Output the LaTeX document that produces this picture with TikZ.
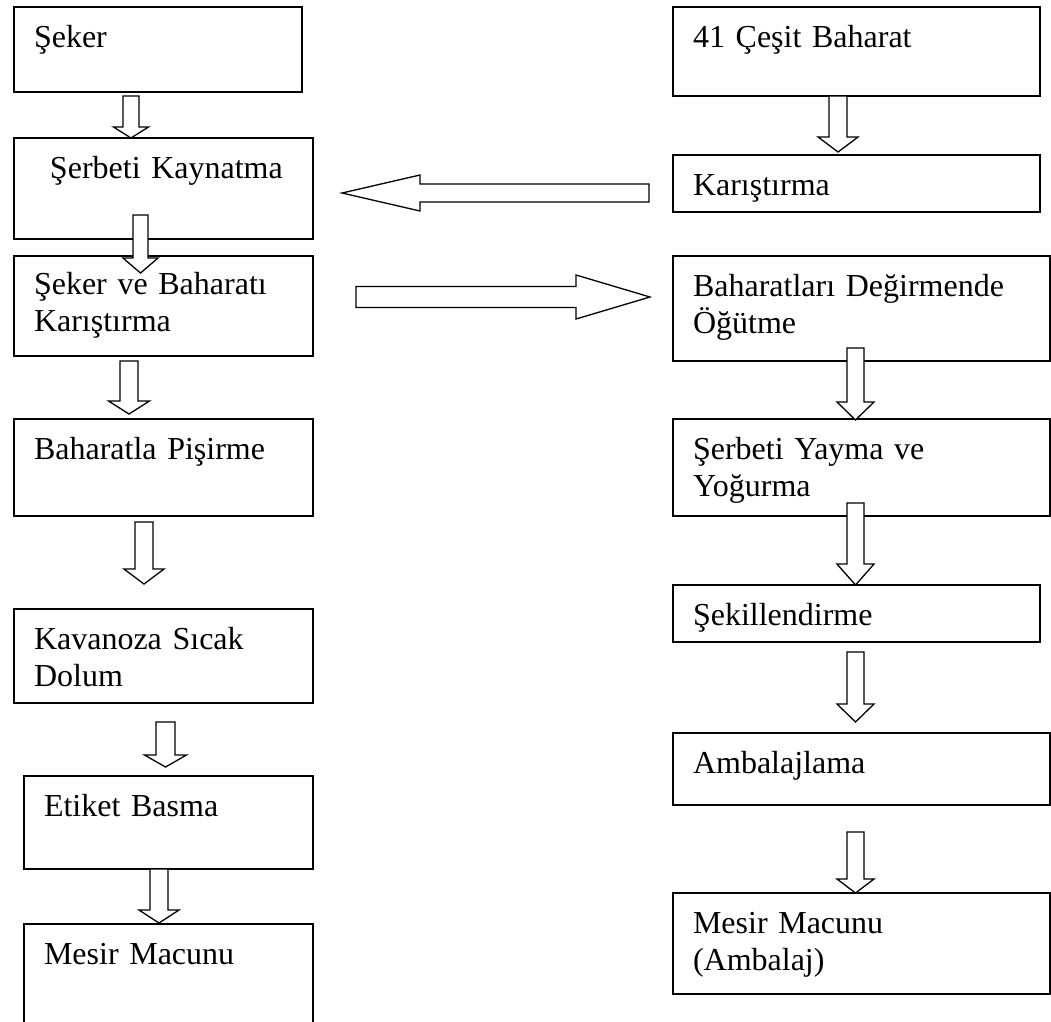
\documentclass[tikz,border=0pt]{standalone}
\usepackage{fontspec}
\setmainfont{Liberation Serif}

\begin{document}
\begin{tikzpicture}[
      x=1pt, y=-1pt,
      stepbox/.style={
         rectangle,
         draw=black,
         line width=1.6pt,
         anchor=north west,
         outer sep=0pt,
         inner xsep=20pt,
         inner ysep=0pt,
         text height=40pt,
         align=left,
         font=\fontsize{32}{37}\selectfont},
      blockline/.style={draw=black, fill=white, line width=1.3pt, line join=miter},
      pics/blockarrow/.style n args={5}{code={%
         \draw[blockline, rotate=#5] (0,0) -- (#3,-#4) -- (#2,-#4) -- (#2,-#1)
            -- (-#2,-#1) -- (-#2,-#4) -- (-#3,-#4) -- cycle;}}
      ]
      \useasboundingbox (0,0) rectangle (1051,1021);

      % left column
      \node[stepbox, text width=248pt, text depth=45pt] (L1) at (14,7) {Şeker};
      \node[stepbox, text width=259pt, text depth=61pt] (L2) at (14,138) {\hspace*{16pt}Şerbeti Kaynatma};
      \node[stepbox, text width=259pt, text height=38pt, text depth=62pt] (L3) at (14,256) {Şeker ve Baharatı\\Karıştırma};
      \node[stepbox, text width=259pt, text depth=57pt] (L4) at (14,419) {Baharatla Pişirme};
      \node[stepbox, text width=259pt, text depth=54pt] (L5) at (14,609) {Kavanoza Sıcak\\Dolum};
      \node[stepbox, text width=249pt, text depth=53pt] (L6) at (24,776) {Etiket Basma};
      \node[stepbox, text width=249pt, text depth=80pt] (L7) at (24,924) {Mesir Macunu};

      % right column
      \node[stepbox, text width=327pt, text depth=49pt] (R1) at (673,7) {41 Çeşit Baharat};
      \node[stepbox, text width=327pt, text depth=17pt] (R2) at (673,155) {Karıştırma};
      \node[stepbox, text width=337pt, text depth=65pt] (R3) at (673,256) {Baharatları Değirmende\\Öğütme};
      \node[stepbox, text width=337pt, text depth=57pt] (R4) at (673,419) {Şerbeti Yayma ve\\Yoğurma};
      \node[stepbox, text width=327pt, text depth=17pt] (R5) at (673,585) {Şekillendirme};
      \node[stepbox, text width=337pt, text depth=32pt] (R6) at (673,733) {Ambalajlama};
      \node[stepbox, text width=337pt, text depth=61pt] (R7) at (673,893) {Mesir Macunu\\(Ambalaj)};

    \foreach \a/\dx/\dy/\len/\sh/\hh/\hl/\rot in {% tip anchor/shift/length/shaft/head/head length/turn
      L2.north west/117/0/42/8/17.5/11/0,
      L3.north west/126.5/17/58/7.5/17.5/15/0,
      L4.north west/115/-5/53/9/20.5/13/0,
      L5.north west/130/-25/62/9/20/15/0,
      L6.north west/141.5/-9/45/9.5/21/12/0,
      L7.north west/135/-1/54/9/20/13/0,
      R2.north west/165/-3/56/9/20/15/0,
      R4.north west/182.5/1/72/8.5/18.5/18/0,
      R5.north west/182.5/0/82/8.5/18.5/21/0,
      R6.north west/182.5/-11/70/8.5/18.5/18/0,
      R7.north west/182.5/0/61/8.5/18.5/14/0,
      L2.east/29/4.5/307/9/18/78/-90,
      R3.west/-23/-11.5/294/10.5/22/74/90}
       \pic at ([shift={(\dx,\dy)}]\a) {blockarrow={\len}{\sh}{\hh}{\hl}{\rot}};
    \end{tikzpicture}
\end{document}
